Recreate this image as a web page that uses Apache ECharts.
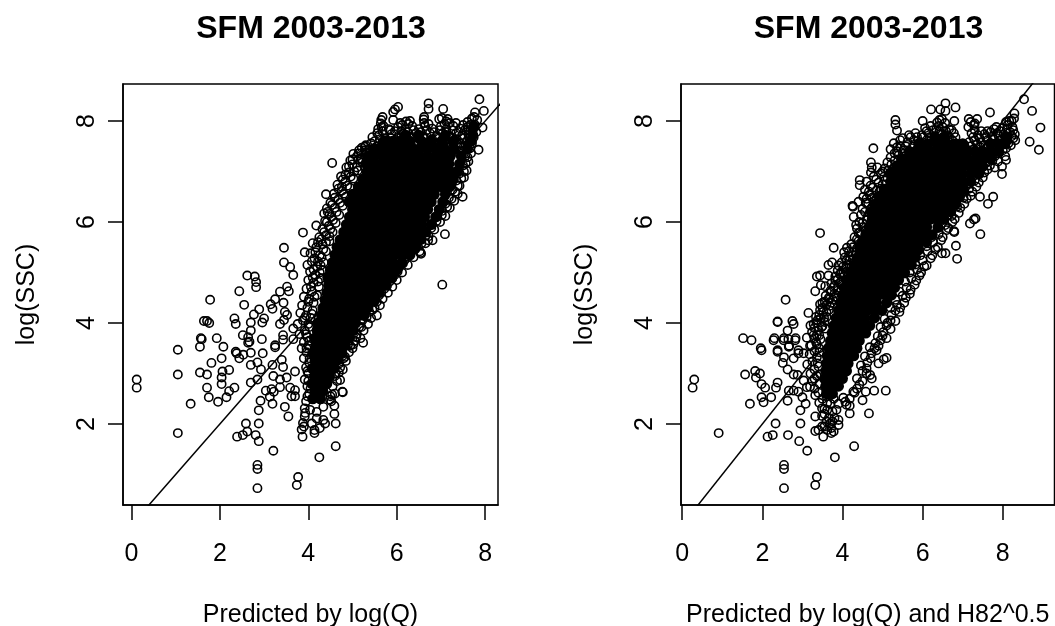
<!DOCTYPE html>
<html><head><meta charset="utf-8">
<script src="https://cdn.jsdelivr.net/npm/echarts@6/dist/echarts.min.js"></script>
<style>html,body{margin:0;padding:0;background:#fff}#c{width:1055px;height:626px}</style>
</head><body><div id="c"></div>
<script>
const chartTitle = "SFM 2003-2013";
const yName = "log(SSC)";
const leftXName = "Predicted by log(Q)";
const rightXName = "Predicted by log(Q) and H82^0.5";
const leftXTicks = [0,2,4,6,8];
const rightXTicks = [0,2,4,6,8];
const yTicks = [2,4,6,8];
const identityLine = [[-1,-1],[12,12]];

// Separately readable points, panel 1: [predicted, observed]
const leftOutliers = [[7.87,8.43],[7.97,8.2],[7.77,8.17],[7.94,7.87],[7.85,7.43],[6.72,8.35],[6.72,8.24],[7.05,8.24],[6.03,8.28],[5.96,8.23],[5.92,8.18],[5.65,8.02],[5.92,8.02],[6.21,7.99],[6.61,8.03],[7.15,8.04],[6.96,8.04],[4.54,7.17],[5.21,7.47],[5.28,7.49],[5.13,7.24],[5.21,7.24],[5.41,7.31],[4.4,6.55],[4.76,6.7],[7.49,6.5],[3.88,5.79],[7.09,5.76],[4.18,5.93],[4.36,6.17],[4.42,6.27],[3.45,5.49],[3.45,5.2],[3.59,5.11],[3.92,5.4],[6.71,5.64],[6.81,5.64],[6.54,5.39],[6.55,5.37],[7.03,4.76],
[3.66,4.95],[2.62,4.94],[2.79,4.92],[2.82,4.81],[2.82,4.71],[2.44,4.63],[3.36,4.62],[3.52,4.72],[3.56,4.63],[1.78,4.46],[2.55,4.36],[3.25,4.47],[3.15,4.37],[3.19,4.28],[2.89,4.27],[2.77,4.17],[3.44,4.4],[3.47,4.22],[3.52,4.16],[3,4.09],[2.96,4.01],[2.33,4.09],[2.36,3.98],[2.7,4.01],[3.36,3.98],[3.45,4.06],[1.64,4.04],[1.71,4.04],[1.76,4],[2.7,3.85],[2.52,3.76],[2.64,3.72],[2.67,3.63],[2.64,3.61],[2.95,3.68],[1.57,3.7],[1.59,3.68],[1.93,3.7],[1.55,3.53],[2.08,3.53],[1.05,3.47],[2.36,3.43],[3.25,3.56],[3.43,3.76],[3.43,3.67],[3.66,3.89],[3.66,3.68],
[2.38,3.4],[2.44,3.3],[2.53,3.37],[2.7,3.41],[2.97,3.4],[2.04,3.3],[1.81,3.21],[2.7,3.17],[2.85,3.22],[3.19,3.17],[3.25,3.52],[3.4,3.27],[3.43,3.13],[3.7,3.04],[2.21,3.07],[2.06,3.04],[2.93,3.08],[1.05,2.98],[1.55,3.02],[1.71,2.98],[2.04,2.92],[2.04,2.79],[2.85,2.88],[2.7,2.82],[3.21,2.95],[3.51,2.92],[3.36,2.88],[0.12,2.88],[0.12,2.72],[1.71,2.72],[2.33,2.72],[2.21,2.65],[2.15,2.53],[1.96,2.44],[1.75,2.53],[1.34,2.4],[3.04,2.66],[3.17,2.69],[3.22,2.64],[3.13,2.54],[3.36,2.73],[3.59,2.72],[3.7,2.67],[3.62,2.55],[3.7,2.55],[2.92,2.46],[3.19,2.4],[3.47,2.34],[2.88,2.27],[3.55,2.15],[2.59,2.01],[2.88,2.01],[2.62,1.85],[2.52,1.78],[2.39,1.75],[2.81,1.78],[2.88,1.66],[1.05,1.82],[3.21,1.47],[2.85,1.19],[2.85,1.11],[2.85,0.73],[3.77,0.95],[3.74,0.79],[4.25,1.34],[4.62,1.56],[4.62,2.01],[4.59,2.2],[4.59,2.36],[4.77,2.64],[4.78,2.63],[4.54,2.58],[4.49,2.48],[4.69,3.02],[4.72,2.87],[5.24,3.61],[5.02,3.58],[4.83,3.33],[3.85,1.89],[3.87,1.75],[4.14,1.82],[4.14,1.88],[4.38,2.01],[4.26,1.92],[3.92,2.15],[3.92,2.31],[4.08,2.01],[4.19,2.11],[4.34,2.08],[4.34,2.34],[4.04,2.28],[4.19,2.24],[3.9,1.95],[3.88,2.02],[3.93,2.22]];

// Edge of the overplotted cloud, panel 1
const leftEdge = [[3.95,2.45],[4.02,2.6],[3.98,2.75],[3.92,2.88],[4,3],[3.95,3.12],[4.02,3.22],[3.9,3.3],[3.96,3.42],[3.85,3.5],[4,3.55],[3.9,3.62],[3.98,3.72],[3.8,3.78],[3.92,3.85],[4.02,3.92],[3.76,3.98],[3.88,4.05],[4.05,4.1],[3.95,4.15],[3.82,4.2],[4.1,4.25],[3.98,4.3],[3.86,4.35],[4.12,4.4],[4.02,4.48],[3.9,4.52],[4.2,4.55],[4.08,4.62],[3.96,4.68],[4.24,4.72],[4.12,4.8],[4,4.85],[4.28,4.88],[4.16,4.95],[4.04,5.02],[4.32,5.05],[4.2,5.12],[3.98,5.15],[4.35,5.2],[4.14,5.28],[4.26,5.34],[4.05,5.38],[4.4,5.42],[4.18,5.5],[4.32,5.56],[4.1,5.58],[4.48,5.62],[4.25,5.7],[4.4,5.74],[4.55,5.8],[4.32,5.86],[4.46,5.92],[4.62,5.98],[4.38,6.02],[4.52,6.1],[4.7,6.14],[4.44,6.2],[4.6,6.28],[4.78,6.32],[4.5,6.38],[4.68,6.45],[4.85,6.5],[4.58,6.56],[4.76,6.62],[4.94,6.68],[4.66,6.74],[4.84,6.8],[5.02,6.86],[4.74,6.9],[4.92,6.98],[5.12,7.02],[4.86,7.08],[5,7.14],[5.22,7.18],[4.95,7.22],[5.1,7.3],[5.35,7.25],[5.02,7.35],
[4.52,2.45],[4.6,2.6],[4.55,2.75],[4.65,2.85],[4.62,3],[4.78,3.08],[4.7,3.2],[4.85,3.25],[4.78,3.35],[4.92,3.42],[5,3.5],[4.9,3.58],[5.05,3.65],[5.18,3.7],[5.1,3.78],[5.25,3.85],[5.15,3.92],[5.35,3.98],[5.22,4.05],[5.42,4.1],[5.55,4.15],[5.38,4.22],[5.5,4.3],[5.62,4.35],[5.48,4.42],[5.68,4.48],[5.6,4.55],[5.8,4.6],[5.72,4.68],[5.9,4.72],[5.84,4.82],[6,4.85],[5.95,4.95],[6.12,5],[6.05,5.1],[6.25,5.15],[6.18,5.25],[6.38,5.3],[6.3,5.4],[6.52,5.42],[6.45,5.52],[6.65,5.58],[6.56,5.65],[6.72,5.72],[6.64,5.8],[6.85,5.85],[6.78,5.95],[6.98,6],[6.9,6.1],[7.1,6.12],[7.02,6.22],[7.2,6.28],[7.1,6.36],[7.3,6.42],[7.18,6.48],[7.38,6.56],[7.26,6.64],[7.42,6.72],[7.35,6.82],[7.52,6.88],[7.42,6.96],[7.58,7.02],[7.5,7.12],[7.62,7.2],[7.55,7.3],[7.68,7.36],[7.6,7.45],
[5.15,7.42],[5.3,7.38],[5.45,7.36],[5.58,7.4],[5.7,7.33],[5.82,7.42],[5.95,7.46],[6.1,7.42],[6.25,7.48],[6.4,7.44],[6.55,7.48],[6.7,7.44],[6.85,7.48],[7,7.44],[7.15,7.48],[7.3,7.44],[7.45,7.48],
[5.3,7.52],[5.42,7.56],[5.55,7.5],[5.68,7.58],[5.8,7.52],[5.93,7.6],[6.05,7.54],[6.18,7.6],[6.32,7.54],[6.46,7.6],[6.6,7.55],[6.74,7.6],[6.88,7.56],[7.02,7.62],[7.16,7.56],[7.3,7.62],[7.44,7.56],[7.58,7.6],[7.7,7.55],
[5.45,7.68],[5.6,7.72],[5.74,7.66],[5.88,7.74],[6.02,7.68],[6.16,7.75],[6.3,7.68],[6.44,7.76],[6.6,7.7],[6.75,7.76],[6.9,7.7],[7.04,7.76],[7.2,7.7],[7.34,7.76],[7.48,7.72],[7.62,7.74],[7.74,7.68],[7.8,7.78],
[5.58,7.84],[5.7,7.9],[5.85,7.82],[6.03,7.88],[6.2,7.84],[6.35,7.9],[6.5,7.84],[6.64,7.9],[6.8,7.85],[7,7.9],[7.12,7.84],[7.28,7.9],[7.44,7.85],[7.6,7.88],[7.72,7.82],[7.76,7.93],[7.82,8.02],
[5.64,7.95],[5.68,8.08],[6.08,7.96],[6.3,8],[6.62,7.96],[6.62,8.08],[7.02,8.06],[7.2,7.96],[7.7,8.05],[7.75,8.08],[7.12,7.99],[7.6,7.98]];
const leftEdgeExtra = [[4,4.42],[4.14,4.52],[4.06,4.72],[4.22,4.82],[4.1,4.9],[4.26,5],[4.12,5.06],[4.28,5.14],[4.08,5.22],[4.22,5.22],[4.3,5.3],[4.16,5.4],[4.34,5.46],[4.22,5.6],[4.4,5.6],[4.3,5.66],[4.48,5.72],[4.36,5.8],[4.5,5.86],[4.42,6],[4.56,6.04],[4.48,6.16],[4.64,6.2],[4.54,6.34],[4.72,6.38],[4.6,6.48],[4.8,6.56],[4.68,6.66],[4.88,6.72],[4.78,6.84],[4.96,6.9],[4.84,6.94],[5.04,7],[4.92,7.1],[5.1,7.08],[5,7.24],[5.2,7.26],[5.14,7.36],[5.28,7.42],
[3.98,2.55],[4.05,2.7],[4,2.85],[3.98,3.05],[4.03,3.3],[3.96,3.5],[4.02,3.65],[3.95,3.78],[4,3.98],[3.92,4.1],[4.08,4.18],
[4.5,2.55],[4.6,2.95],[4.72,3.12],[4.8,3.3],[4.95,3.55],[5.08,3.72],[5.2,3.92],[5.32,4.12],[5.45,4.26],[5.55,4.42],[5.65,4.6],[5.78,4.74],[5.9,4.88],[6.02,5.02],[6.14,5.18],[6.28,5.34],[6.42,5.46],[6.56,5.58],[6.66,5.74],[6.78,5.88],[6.9,6.02],[7.02,6.14],[7.14,6.3],[7.24,6.46],[7.32,6.6],[7.38,6.72],[7.46,6.86],[7.52,7],[7.56,7.16],[7.6,7.28],[7.66,7.46],[7.7,7.6],
[5.38,7.44],[5.5,7.46],[5.64,7.48],[5.76,7.5],[5.9,7.52],[6.02,7.48],[6.14,7.54],[6.28,7.5],[6.42,7.52],[6.58,7.54],[6.72,7.5],[6.84,7.54],[6.96,7.5],[7.1,7.54],[7.24,7.5],[7.38,7.54],[7.52,7.5],
[5.5,7.6],[5.62,7.64],[5.76,7.62],[5.86,7.66],[5.98,7.62],[6.1,7.68],[6.24,7.64],[6.38,7.68],[6.52,7.64],[6.66,7.66],[6.8,7.64],[6.94,7.68],[7.08,7.64],[7.22,7.68],[7.36,7.64],[7.5,7.66],[7.64,7.66],
[5.56,7.76],[5.68,7.8],[5.82,7.84],[5.96,7.8],[6.1,7.8],[6.24,7.78],[6.38,7.82],[6.54,7.78],[6.68,7.82],[6.84,7.78],[6.98,7.82],[7.12,7.78],[7.26,7.82],[7.4,7.78],[7.54,7.82],[7.66,7.8],
[5.66,7.88],[6.12,7.92],[6.26,7.94],[6.72,7.94],[7.08,7.94],[7.34,7.96],[7.5,7.92],[7.66,7.92]];

// Fully overplotted interior, panel 1: [observed, [predicted...]]
const leftCore = [[2.5,[4.1,4.27]],[2.65,[4.15,4.33]],[2.8,[4.08,4.25,4.42]],[2.95,[4.14,4.31,4.48]],[3.1,[4.09,4.26,4.43,4.58]],[3.25,[4.15,4.32,4.49,4.64]],[3.4,[4.1,4.27,4.44,4.61,4.76]],[3.55,[4.17,4.34,4.51,4.68,4.83]],[3.7,[4.14,4.31,4.48,4.65,4.82,4.93]],[3.85,[4.2,4.37,4.54,4.71,4.88,5.02]],[4,[4.22,4.39,4.56,4.73,4.9,5.07]],[4.15,[4.3,4.47,4.64,4.81,4.98,5.15,5.26]],[4.3,[4.33,4.5,4.67,4.84,5.01,5.18,5.35]],[4.45,[4.38,4.55,4.72,4.89,5.06,5.23,5.4,5.5]],[4.6,[4.42,4.59,4.76,4.93,5.1,5.27,5.44,5.6]],[4.75,[4.46,4.63,4.8,4.97,5.14,5.31,5.48,5.65,5.75]],[4.9,[4.44,4.61,4.78,4.95,5.12,5.29,5.46,5.63,5.8,5.88]],[5.05,[4.5,4.67,4.84,5.01,5.18,5.35,5.52,5.69,5.86,6]],[5.2,[4.55,4.72,4.89,5.06,5.23,5.4,5.57,5.74,5.91,6.12]],[5.35,[4.6,4.77,4.94,5.11,5.28,5.45,5.62,5.79,5.96,6.13,6.3]],[5.5,[4.65,4.82,4.99,5.16,5.33,5.5,5.67,5.84,6.01,6.18,6.35,6.42]],[5.65,[4.72,4.89,5.06,5.23,5.4,5.57,5.74,5.91,6.08,6.25,6.42,6.52]],[5.8,[4.8,4.97,5.14,5.31,5.48,5.65,5.82,5.99,6.16,6.33,6.5,6.66]],[5.95,[4.86,5.03,5.2,5.37,5.54,5.71,5.88,6.05,6.22,6.39,6.56,6.78]],[6.1,[4.93,5.1,5.27,5.44,5.61,5.78,5.95,6.12,6.29,6.46,6.63,6.88]],[6.25,[5,5.17,5.34,5.51,5.68,5.85,6.02,6.19,6.36,6.53,6.7,6.96]],[6.4,[4.92,5.08,5.25,5.42,5.59,5.76,5.93,6.1,6.27,6.44,6.61,6.78,7.04]],[6.55,[5,5.15,5.32,5.49,5.66,5.83,6,6.17,6.34,6.51,6.68,6.85,7.1]],[6.7,[5.13,5.3,5.47,5.64,5.81,5.98,6.15,6.32,6.49,6.66,6.83,7,7.2]],[6.85,[5.23,5.4,5.57,5.74,5.91,6.08,6.25,6.42,6.59,6.76,6.93,7.1,7.28]],[7,[5.33,5.5,5.67,5.84,6.01,6.18,6.35,6.52,6.69,6.86,7.03,7.2,7.36]],[7.15,[5.31,5.48,5.65,5.82,5.99,6.16,6.33,6.5,6.67,6.84,7.01,7.18,7.42]],[7.3,[5.34,5.5,5.68,5.85,6.02,6.19,6.36,6.53,6.7,6.87,7.04,7.21,7.46]],[7.45,[5.5,5.65,5.82,5.98,6.16,6.33,6.52,6.7,6.9,7.08,7.3,7.6]],[7.6,[5.72,5.9,6.08,6.3,6.56,6.78,7.02,7.28,7.68]],[7.72,[6.2,6.5,7.1,7.72]],[7.9,[7.74]]];

// Separately readable points, panel 2
const rightOutliers = [[0.3,2.88],[0.26,2.72],[0.91,1.82],[1.57,2.98],[1.82,3.05],[1.94,3],[1.84,2.92],[1.98,2.79],[2.07,2.72],[1.69,2.4],[1.98,2.53],[2.03,2.43],[2.22,2.53],[2.34,2.72],[2.38,2.82],[2.33,2.01],[2.26,1.78],[2.13,1.75],[2.64,1.78],[2.92,1.66],[3.12,1.47],[2.54,1.19],[2.54,1.11],[2.54,0.73],[3.36,0.95],[3.32,0.79],[3.81,1.34],[4.29,1.56],[2.95,2.01],[2.95,2.27],[2.63,2.46],[2.66,2.66],[2.78,2.66],[2.9,2.64],[3,2.53],[3.08,2.4],[3.11,2.73],[3.19,2.74],[3.32,2.57],[3.32,2.15],[3.49,2.31],[3.49,2.16],[3.32,1.86],[3.4,1.88],[3.49,1.95],[3.52,1.75],[3.72,1.82],[3.9,1.98],[3.9,2.08],[3.69,2.01],[4.18,2.21],[4.66,2.21],[4.18,2.36],[4.07,2.44],[4.5,2.47],[4.27,2.64],[4.58,2.64],[4.79,2.66],[5.08,2.66],[4.73,2.9],[4.69,2.97],[4.6,3],[4.9,3.2],[5.03,3.28],[5.1,3.31],
[1.98,3.46],[2.38,3.43],[2.54,3.32],[2.51,3.21],[2.78,3.3],[2.66,3.53],[2.9,3.4],[3.03,3.4],[2.63,3.08],[2.78,2.98],[2.88,2.97],[3.03,2.86],[1.73,3.66],[2.28,3.66],[2.53,3.66],[2.82,3.66],
[3.44,5.78],[3.78,5.49],[4.11,5.49],[4.04,5.4],[3.74,5.2],[3.65,5.15],[3.9,5.14],[3.94,4.96],[3.36,4.92],[3.44,4.94],[3.65,4.94],[3.46,4.75],[3.57,4.73],[3.78,4.71],[3.82,4.84],[3.32,4.63],[3.67,4.47],[2.58,4.46],[3.44,4.37],[3.15,4.2],[3.44,4.26],[3.28,3.98],[2.38,4.03],[2.38,4.02],[2.75,4.04],[2.78,3.98],[2.63,3.85],[2.3,3.7],[2.54,3.7],[2.65,3.68],[2.83,3.7],[1.52,3.7],[3.11,3.71],[3.28,3.76],[3.36,3.76],[3.57,3.89],[1.96,3.5],[2.38,3.46],[2.67,3.55],[2.9,3.46],[3.19,3.55],
[4.26,6.3],[4.28,6.1],[4.36,5.87],[4.4,5.78],[4.4,6.4],[4.43,6.83],[4.43,6.73],
[8.53,8.43],[8.73,8.2],[8.94,7.87],[8.67,7.59],[8.9,7.43],[8.31,7.62],[8.29,8.15],[7.68,8.17],[7.36,8.04],[7.15,8.04],[6.82,8.27],[6.57,8.35],[6.57,8.2],[6.44,8.23],[6.21,8.23],[6.79,8],[6,8],[6.48,8.04],[6.36,7.97],[5.32,8.02],[5.32,7.93],[5.36,7.81],[4.77,7.46],[4.71,7.18],[4.87,7.08],[4.73,7.08],[4.71,6.98],[7.76,6.5],[7.63,6.36],[7.43,6.5],[7.44,5.76],[6.83,5.53],[6.86,5.27],[6.48,5.38],[6.57,5.38],[6.78,5.82],[6.79,5.8],[7.32,6.07],[7.18,5.97],[7.28,6.05],[4.25,6.32],[7.98,7.1],[8.08,7.23],[7.9,7.36],[7.98,6.95]];

// Edge of the overplotted cloud, panel 2
const rightEdge = [[3.55,2.3],[3.62,2.42],[3.5,2.5],[3.4,2.62],[3.3,2.7],[3.42,2.8],[3.25,2.85],[3.36,2.95],[3.2,3],[3.3,3.08],[3.4,3.14],[3.12,3.18],[3.25,3.24],[3.36,3.32],[3.18,3.38],[3.3,3.44],[3.42,3.5],[3.22,3.56],[3.34,3.62],[3.45,3.68],[3.24,3.82],[3.4,3.86],[3.5,3.94],[3.38,4.06],[3.54,4.1],[3.42,4.16],[3.6,4.22],[3.5,4.3],[3.68,4.34],[3.56,4.42],[3.76,4.46],[3.58,4.54],[3.8,4.58],[3.7,4.64],[3.88,4.7],[3.72,4.78],[3.96,4.82],[3.82,4.92],[4.02,5],[3.88,5.04],[4.1,5.1],[3.98,5.2],[4.18,5.24],[4.06,5.3],[4.26,5.34],[4.16,5.42],[4.36,5.48],[4.22,5.56],[4.4,5.62],[4.3,5.7],[4.46,5.76],[4.34,5.94],[4.52,5.9],[4.42,6],[4.6,6.04],[4.46,6.14],[4.68,6.18],[4.5,6.26],[4.76,6.32],[4.58,6.38],[4.84,6.46],[4.52,6.5],[4.68,6.54],[4.92,6.6],[4.56,6.64],[4.76,6.68],[5,6.74],[4.6,6.8],[4.84,6.84],[5.12,6.88],[4.96,6.96],[5.22,7],[5.05,7.06],[5.34,7.12],[5.12,7.18],[5.2,7.28],[5.46,7.24],[5.3,7.36],
[4.18,2.5],[4.3,2.62],[4.42,2.78],[4.36,2.9],[4.5,3.05],[4.46,3.16],[4.62,3.22],[4.56,3.34],[4.72,3.4],[4.85,3.46],[4.68,3.52],[4.82,3.6],[4.95,3.66],[5.1,3.7],[4.88,3.74],[5.02,3.82],[5.2,3.88],[4.95,3.92],[5.12,4],[5.32,4.04],[5.05,4.08],[5.22,4.16],[5.42,4.22],[5.2,4.3],[5.36,4.36],[5.54,4.4],[5.32,4.46],[5.5,4.54],[5.68,4.58],[5.42,4.62],[5.6,4.7],[5.8,4.76],[5.56,4.82],[5.72,4.88],[5.92,4.94],[5.68,5],[5.86,5.06],[6.04,5.12],[5.82,5.16],[6,5.24],[6.2,5.28],[5.94,5.34],[6.12,5.42],[6.32,5.46],[6.1,5.52],[6.26,5.6],[6.46,5.64],[6.22,5.7],[6.4,5.76],[6.6,5.84],[6.38,5.88],[6.56,5.94],[6.74,6],[6.54,6.06],[6.72,6.12],[6.9,6.18],[6.68,6.24],[6.86,6.3],[7.04,6.36],[6.84,6.42],[7.02,6.48],[7.2,6.52],[7,6.58],[7.16,6.66],[7.34,6.7],[7.12,6.76],[7.3,6.82],[7.5,6.88],[7.26,6.94],[7.42,7],[7.62,7.04],[7.8,7.08],[7.38,7.1],[7.56,7.16],[7.74,7.22],[7.48,7.28],[7.66,7.32],[7.84,7.36],[8,7.42],
[5.2,7.44],[5.36,7.48],[5.52,7.42],[5.68,7.38],[5.84,7.42],[6,7.46],[6.16,7.4],[6.32,7.46],[6.48,7.42],[6.64,7.46],[6.8,7.5],[6.96,7.46],[7.12,7.4],[7.28,7.44],[7.44,7.48],[7.6,7.46],[7.76,7.52],[7.92,7.5],[8.08,7.46],[8.2,7.52],
[5.28,7.56],[5.44,7.62],[5.62,7.58],[5.78,7.62],[5.94,7.58],[6.1,7.62],[6.26,7.56],[6.42,7.62],[6.58,7.58],[6.74,7.62],[7.16,7.58],[7.3,7.62],[7.46,7.58],[7.62,7.62],[7.78,7.64],[7.94,7.62],[8.1,7.6],[8.26,7.66],
[5.66,7.72],[5.82,7.76],[5.98,7.72],[6.14,7.76],[6.3,7.7],[6.46,7.74],[6.62,7.72],[6.78,7.76],[7.22,7.76],[7.38,7.72],[7.54,7.74],[7.7,7.78],[7.86,7.76],[8.02,7.74],[8.18,7.78],[8.3,7.74],
[6.06,7.86],[6.2,7.9],[6.34,7.84],[6.5,7.88],[6.66,7.84],[7.14,7.88],[7.28,7.92],[7.84,7.88],[8,7.86],[8.12,7.92],[8.24,7.88],[8.22,8],[8.28,8.05],[8.16,8],[8.08,7.98],[6.4,7.9],[6.56,7.96],[6.42,8.02],[7.2,7.98],[7.3,7.95]];
const rightEdgeExtra = [[3.3,3.7],[3.42,3.76],[3.3,3.9],[3.48,3.92],[3.2,3.95],[3.35,4],[3.55,4.02],[3.46,4.1],[3.6,4.12],[3.34,4.12],[3.52,4.22],[3.66,4.26],[3.6,4.36],[3.72,4.4],[3.5,4.4],[3.66,4.5],[3.8,4.52],[3.72,4.62],[3.88,4.64],[3.8,4.74],[3.96,4.76],[3.88,4.86],[4.04,4.92],[3.96,5],[4.1,5.02],[4.02,5.12],[4.18,5.14],[4.1,5.24],[4.26,5.26],[4.16,5.32],[4.34,5.4],[4.26,5.5],[4.42,5.54],[4.36,5.66],[4.44,5.8],[4.58,5.84],[4.5,5.98],[4.62,6.1],[4.56,6.2],[4.7,6.26],[4.64,6.36],[4.78,6.4],[4.6,6.46],[4.74,6.48],[4.9,6.52],[4.66,6.6],[4.84,6.62],[4.96,6.66],[4.7,6.72],[4.9,6.78],[5.06,6.82],[4.78,6.9],[5.04,6.9],[5.18,6.96],[5,7],[5.14,7.02],[5.28,7.06],[5.22,7.14],[5.42,7.14],[5.3,7.22],[5.52,7.3],[5.4,7.32],[5.36,7.4],
[3.6,2.55],[3.7,2.4],[3.78,2.5],[3.9,2.4],[4.02,2.52],[4.1,2.38],[3.62,2.28],[3.75,2.25],[3.85,2.28],[3.55,2.2],[3.66,2.12],[3.8,2.12],[3.6,2.05],[3.75,2.05],[3.55,1.95],[3.62,1.88],[3.72,1.92],[3.78,1.85],[3.42,2.42],[3.3,2.9],[3.45,2.98],[3.38,3.2],[3.42,3.42],[3.36,3.58],
[4.36,2.7],[4.5,2.85],[4.6,3.1],[4.7,3.3],[4.8,3.5],[4.9,3.55],[5,3.75],[5.1,3.95],[5.2,4.05],[5.32,4.25],[5.44,4.3],[5.58,4.5],[5.7,4.66],[5.84,4.84],[5.96,5],[6.1,5.14],[6.24,5.34],[6.38,5.5],[6.5,5.7],[6.64,5.88],[6.8,6.06],[6.94,6.28],[7.1,6.46],[7.24,6.6],[7.4,6.78],[7.54,6.98],[7.68,7.12],[7.88,7.2],[7.8,7.3],[8.06,7.3],
[5.44,7.5],[5.58,7.5],[5.76,7.5],[5.92,7.52],[6.08,7.52],[6.24,7.5],[6.4,7.52],[6.56,7.52],[6.72,7.54],[6.88,7.54],[7.04,7.52],[7.2,7.5],[7.36,7.54],[7.52,7.52],[7.68,7.56],[7.84,7.56],[8,7.54],[8.14,7.56],
[5.5,7.66],[5.7,7.68],[5.86,7.68],[6.02,7.68],[6.18,7.68],[6.34,7.66],[6.5,7.68],[6.66,7.68],[6.82,7.68],[7.26,7.68],[7.42,7.66],[7.58,7.68],[7.74,7.7],[7.9,7.7],[8.06,7.68],[8.22,7.7],
[6.1,7.8],[6.26,7.82],[6.42,7.8],[6.58,7.8],[6.72,7.82],[7.3,7.82],[7.46,7.8],[7.62,7.8],[7.78,7.84],[7.94,7.8],[8.1,7.84],[8.26,7.82]];

// Fully overplotted interior, panel 2
const rightCore = [[2.6,[3.6,3.75]],[2.75,[3.58,3.75,3.9]],[2.9,[3.55,3.72,3.9,4]],[3.05,[3.58,3.76,3.94,4.1]],[3.2,[3.6,3.78,3.96,4.14]],[3.35,[3.62,3.8,3.98,4.16,4.28]],[3.5,[3.66,3.84,4.02,4.2,4.36]],[3.65,[3.7,3.88,4.06,4.24,4.42]],[3.8,[3.74,3.92,4.1,4.28,4.46,4.58]],[3.95,[3.78,3.96,4.14,4.32,4.5,4.68]],[4.1,[3.84,4.02,4.2,4.38,4.56,4.8]],[4.25,[3.9,4.08,4.26,4.44,4.62,4.8,4.98]],[4.4,[3.95,4.13,4.31,4.49,4.67,4.85,5.1]],[4.55,[4,4.18,4.36,4.54,4.72,4.9,5.08,5.22]],[4.7,[4.04,4.22,4.4,4.58,4.76,4.94,5.12,5.3]],[4.85,[4.1,4.28,4.46,4.64,4.82,5,5.18,5.4]],[5,[4.2,4.38,4.56,4.74,4.92,5.1,5.28,5.46,5.55]],[5.15,[4.28,4.46,4.64,4.82,5,5.18,5.36,5.54,5.72]],[5.3,[4.38,4.56,4.74,4.92,5.1,5.28,5.46,5.64,5.82]],[5.45,[4.44,4.62,4.8,4.98,5.16,5.34,5.52,5.7,5.9]],[5.6,[4.5,4.68,4.86,5.04,5.22,5.4,5.58,5.76,5.94,6.1]],[5.75,[4.58,4.76,4.94,5.12,5.3,5.48,5.66,5.84,6.02,6.24]],[5.9,[4.66,4.84,5.02,5.2,5.38,5.56,5.74,5.92,6.1,6.38]],[6.05,[4.74,4.92,5.1,5.28,5.46,5.64,5.82,6,6.18,6.36,6.52]],[6.2,[4.72,4.9,5.08,5.26,5.44,5.62,5.8,5.98,6.16,6.34,6.52,6.7]],[6.35,[4.8,4.98,5.16,5.34,5.52,5.7,5.88,6.06,6.24,6.42,6.6,6.82]],[6.5,[4.92,5.1,5.28,5.46,5.64,5.82,6,6.18,6.36,6.54,6.72,6.92]],[6.65,[5.04,5.22,5.4,5.58,5.76,5.94,6.12,6.3,6.48,6.66,6.84,7.02]],[6.8,[5.2,5.38,5.56,5.74,5.92,6.1,6.28,6.46,6.64,6.82,7,7.2]],[6.95,[5.2,5.38,5.56,5.74,5.92,6.1,6.28,6.46,6.64,6.82,7,7.2,7.4]],[7.1,[5.36,5.54,5.72,5.9,6.08,6.26,6.44,6.62,6.8,6.98,7.18,7.3,7.5]],[7.25,[5.5,5.68,5.86,6.04,6.22,6.4,6.58,6.76,6.94,7.12,7.34,7.52,7.7]],[7.4,[5.66,5.84,6.02,6.2,6.38,6.56,6.74,6.92,7.1,7.3,7.5,7.7,7.9]],[7.55,[5.9,6.12,6.36,6.58,6.82,7,7.7,7.9,8.05]],[7.68,[6.3,6.55,8.1]]];

const expand = rows => rows.flatMap(([y, xs]) => xs.map(x => [x, y]));
const font = 'Liberation Sans, Arial, sans-serif';
const textStyle = {color:'#000', fontFamily:font, fontSize:25};
const panels = [
 {left:123, right:498, xc:306, xmin:-0.19, xmax:8.29, xName:leftXName, xTicks:leftXTicks, pts:leftOutliers.concat(leftEdge, leftEdgeExtra), core:expand(leftCore)},
 {left:681, right:1054.5, xc:863.5, xmin:-0.03, xmax:9.29, xName:rightXName, xTicks:rightXTicks, pts:rightOutliers.concat(rightEdge, rightEdgeExtra), core:expand(rightCore)}
];
const gridTop=84, gridBottom=505;
const axisLine = {show:true, onZero:false, lineStyle:{color:'#000', width:1.5}};
const axisTickStyle = {lineStyle:{color:'#000', width:1.5}};
const option = {
 animation:false, backgroundColor:'#fff',
 title: panels.map(p=>({text:chartTitle, left:p.xc, top:8, textAlign:'center', textStyle:{color:'#000',fontFamily:font,fontSize:32,fontWeight:'bold'}})),
 grid: panels.map(p=>({left:p.left, width:p.right-p.left, top:gridTop, height:gridBottom-gridTop, outerBoundsMode:'none', containLabel:false, show:true, borderColor:'#000', borderWidth:1.5, backgroundColor:'transparent'})),
 xAxis: panels.map((p,i)=>({type:'value', gridIndex:i, min:p.xmin, max:p.xmax, name:p.xName, nameLocation:'middle', nameGap:98, nameTextStyle:textStyle, splitLine:{show:false}, axisLine:axisLine,
   axisTick:{show:true, length:15, customValues:p.xTicks, ...axisTickStyle}, axisLabel:{...textStyle, margin:37, customValues:p.xTicks, formatter:v=>String(v)}})),
 yAxis: panels.map((p,i)=>({type:'value', gridIndex:i, min:0.396, max:8.733, name:yName, nameLocation:'middle', nameGap:83, nameRotate:90, nameTextStyle:textStyle, splitLine:{show:false}, axisLine:axisLine,
   axisTick:{show:true, length:15, customValues:yTicks, ...axisTickStyle}, axisLabel:{...textStyle, margin:36, rotate:90, customValues:yTicks, formatter:v=>String(v), verticalAlign:'middle', align:'center'}})),
 series: panels.flatMap((p,i)=>[
  {type:'scatter', xAxisIndex:i, yAxisIndex:i, data:p.core, symbol:'circle', symbolSize:11, itemStyle:{color:'#000', opacity:1}, silent:true},
  {type:'scatter', xAxisIndex:i, yAxisIndex:i, data:p.pts, symbol:'circle', symbolSize:8.3, itemStyle:{color:'transparent', borderColor:'#000', borderWidth:1.6, opacity:1}, silent:true},
  {type:'line', xAxisIndex:i, yAxisIndex:i, data:identityLine, showSymbol:false, symbol:'none', clip:true, lineStyle:{color:'#000', width:1.5}, silent:true}
 ])
};
const chart = echarts.init(document.getElementById('c'), null, {renderer:'canvas'});
chart.setOption(option);
</script></body></html>
